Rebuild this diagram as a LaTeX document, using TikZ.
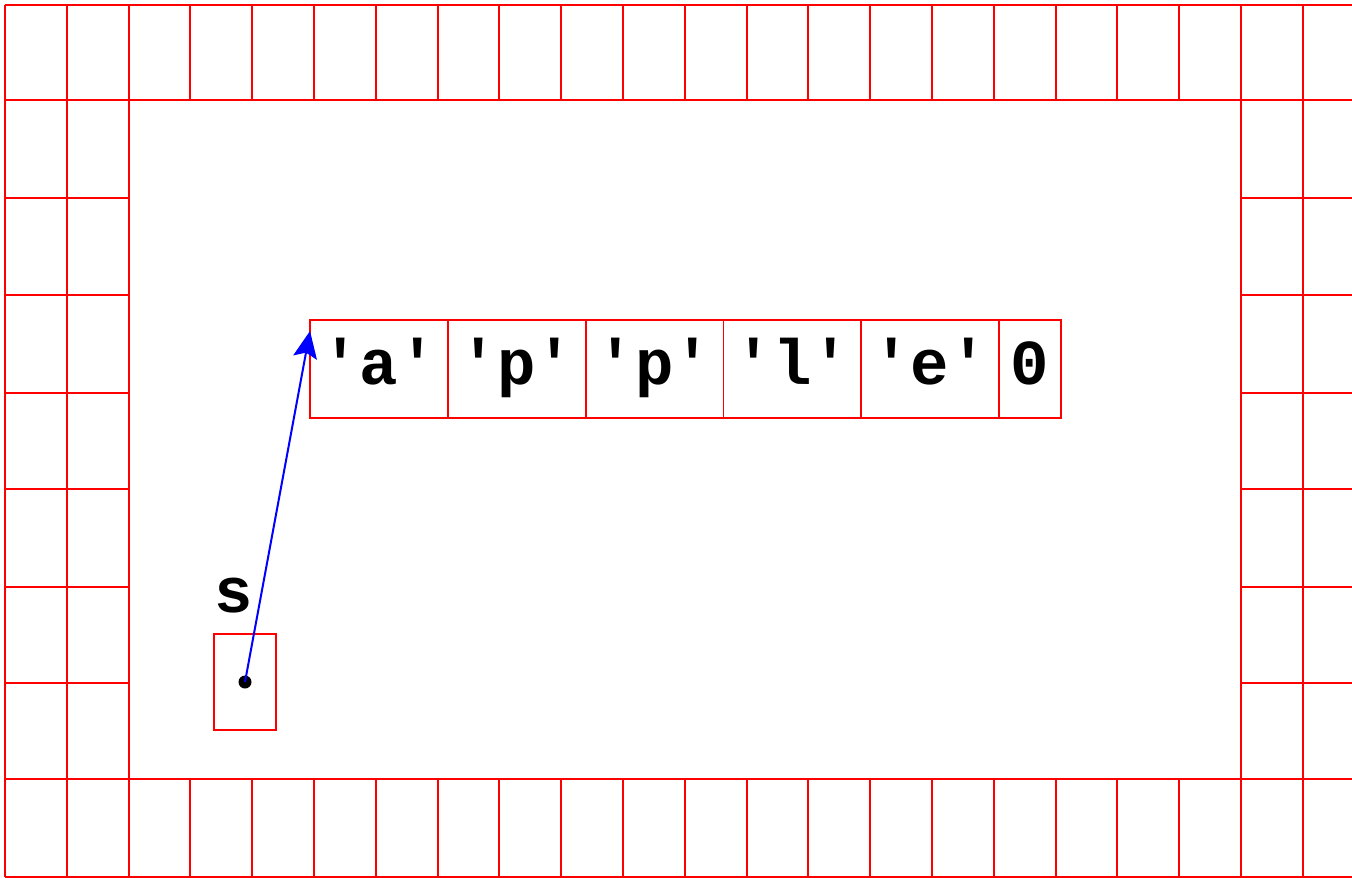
\documentclass[tikz,border=0pt]{standalone}
\usepackage{fontspec}
\setmonofont{Liberation Mono}
\usetikzlibrary{arrows.meta}
\begin{document}
\begin{tikzpicture}[x=1pt,y=-1pt,
  gridline/.style={draw=red,line width=2pt},
  cellbox/.style={draw=red,line width=1.8pt,inner sep=0pt,outer sep=0pt,minimum height=98pt,
    text height=30pt,text depth=0pt,font=\ttfamily\bfseries\fontsize{64}{64}\selectfont,anchor=north west},
  ptrbox/.style={draw=red,line width=1.8pt,inner sep=0pt,outer sep=0pt,minimum width=62pt,minimum height=96pt,anchor=north west},
  lbl/.style={font=\ttfamily\bfseries\fontsize{64}{64}\selectfont,anchor=base,inner sep=0pt},
  ptr/.style={draw=blue,line width=2pt,-{Stealth[length=27pt,width=24pt,inset=5pt]}}]
\useasboundingbox (0,0) rectangle (1352,878);
% outer memory grid
\foreach \y in {5,100,779,877} \draw[gridline] (5,\y) -- (1352,\y);
\foreach \k in {3,...,19} {
  \pgfmathsetmacro{\xx}{5+61.8*\k}
  \draw[gridline] (\xx,5) -- (\xx,100);
  \draw[gridline] (\xx,779) -- (\xx,877);
}
\foreach \k in {0,1,2,20,21} {
  \pgfmathsetmacro{\xx}{5+61.8*\k}
  \draw[gridline] (\xx,5) -- (\xx,877);
}
\foreach \y in {198,295,393,489,587,683} {
  \draw[gridline] (5,\y) -- (128.6,\y);
  \draw[gridline] (1241,\y) -- (1352,\y);
}
% string array
\node[cellbox,minimum width=137.8pt] (c0) at (310,320) {'a'};
\node[cellbox,minimum width=137.8pt] (c1) at (c0.north east) {'p'};
\node[cellbox,minimum width=137.8pt] (c2) at (c1.north east) {'p'};
\node[cellbox,minimum width=137.8pt] (c3) at (c2.north east) {'l'};
\node[cellbox,minimum width=137.8pt] (c4) at (c3.north east) {'e'};
\node[cellbox,minimum width=62pt] (c5) at (c4.north east) {0};
% pointer s
\node[lbl] (slbl) at (234,612) {s};
\node[ptrbox] (sbox) at (214,634) {};
\coordinate (dot) at (245,682);
\fill (dot) circle (6.5pt);
\coordinate (tip) at (310,331);
\draw[ptr] (dot) -- (tip);
\end{tikzpicture}
\end{document}
